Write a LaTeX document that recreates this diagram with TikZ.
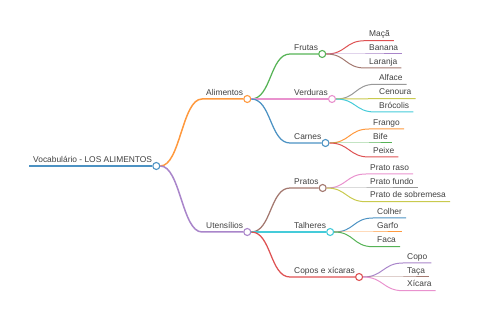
\documentclass[tikz,border=0pt]{standalone}
\usepackage{fontspec}
\setmainfont{Liberation Sans}
\definecolor{txt}{HTML}{404040}
\definecolor{cA}{HTML}{4C92C3}
\definecolor{cB}{HTML}{FF993E}
\definecolor{cC}{HTML}{56B356}
\definecolor{cD}{HTML}{DE5253}
\definecolor{cE}{HTML}{A985CA}
\definecolor{cF}{HTML}{A3786F}
\definecolor{cG}{HTML}{E992CE}
\definecolor{cH}{HTML}{999999}
\definecolor{cI}{HTML}{C9CA4E}
\definecolor{cJ}{HTML}{45CBD9}

\begin{document}
\begin{tikzpicture}[x=1pt,y=-1pt,
    lbl/.style={anchor=south west,inner xsep=4pt,inner ysep=3.5pt,text depth=0pt,
        font=\fontsize{8.4}{10}\selectfont,text=txt},
    dot/.style={circle,draw,fill=white,minimum size=7pt,inner sep=0pt,line width=1.1pt},
    rootline/.style={line width=2pt},
    midline/.style={line width=1.5pt},
    subline/.style={line width=1.25pt},
    leafline/.style={line width=1pt}]
    \useasboundingbox (0,0) rectangle (480,320);

    \node[lbl] (root) at (29,166) {Vocabulário - LOS ALIMENTOS};
    \node[dot,draw=cA] (rootdot) at (root.south east) {};

    \node[lbl] (alim) at (202,99) {Alimentos};
    \node[dot,draw=cB] (alimdot) at (alim.south east) {};
    \node[lbl] (uten) at (202,232) {Utensílios};
    \node[dot,draw=cE] (utendot) at (uten.south east) {};

    \node[lbl] (frutas) at (290,54) {Frutas};
    \node[dot,draw=cC] (frutasdot) at (frutas.south east) {};
    \node[lbl] (verd) at (290,99) {Verduras};
    \node[dot,draw=cG] (verddot) at (verd.south east) {};
    \node[lbl] (carnes) at (290,143) {Carnes};
    \node[dot,draw=cA] (carnesdot) at (carnes.south east) {};
    \node[lbl] (pratos) at (290,188) {Pratos};
    \node[dot,draw=cF] (pratosdot) at (pratos.south east) {};
    \node[lbl] (talh) at (290,232) {Talheres};
    \node[dot,draw=cJ] (talhdot) at (talh.south east) {};
    \node[lbl] (copos) at (290,277) {Copos e xícaras};
    \node[dot,draw=cD] (coposdot) at (copos.south east) {};

    \node[lbl] (maca) at (365,40.7) {Maçã};
    \node[lbl] (banana) at (365,54) {Banana};
    \node[lbl] (laranja) at (365,68) {Laranja};
    \node[lbl] (alface) at (375,84.3) {Alface};
    \node[lbl] (cenoura) at (375,98.7) {Cenoura};
    \node[lbl] (brocolis) at (375,112) {Brócolis};
    \node[lbl] (frango) at (369,129) {Frango};
    \node[lbl] (bife) at (369,143) {Bife};
    \node[lbl] (peixe) at (369,157) {Peixe};
    \node[lbl] (raso) at (366,174) {Prato raso};
    \node[lbl] (fundo) at (366,188) {Prato fundo};
    \node[lbl] (sobre) at (366,201.7) {Prato de sobremesa};
    \node[lbl] (colher) at (373,218) {Colher};
    \node[lbl] (garfo) at (373,232) {Garfo};
    \node[lbl] (faca) at (373,246.7) {Faca};
    \node[lbl] (copo) at (403,263) {Copo};
    \node[lbl] (taca) at (403,277) {Taça};
    \node[lbl] (xicara) at (403,290.7) {Xícara};

    \draw[cA,rootline] (root.south west) -- (rootdot.west);

    \draw[cB,midline] (rootdot.east) .. controls +(20,0) and +(-20,0) .. (alim.south west) -- (alimdot.west);
    \draw[cE,midline] (rootdot.east) .. controls +(20,0) and +(-20,0) .. (uten.south west) -- (utendot.west);

    \draw[cC,subline] (alimdot.east) .. controls +(20,0) and +(-20,0) .. (frutas.south west) -- (frutasdot.west);
    \draw[cG,subline] (alimdot.east) .. controls +(20,0) and +(-20,0) .. (verd.south west) -- (verddot.west);
    \draw[cA,subline] (alimdot.east) .. controls +(20,0) and +(-20,0) .. (carnes.south west) -- (carnesdot.west);
    \draw[cF,subline] (utendot.east) .. controls +(20,0) and +(-20,0) .. (pratos.south west) -- (pratosdot.west);
    \draw[cJ,subline] (utendot.east) .. controls +(20,0) and +(-20,0) .. (talh.south west) -- (talhdot.west);
    \draw[cD,subline] (utendot.east) .. controls +(20,0) and +(-20,0) .. (copos.south west) -- (coposdot.west);

    \draw[cD,leafline] (frutasdot.east) .. controls +(20,0) and +(-20,0) .. (maca.south west) -- (maca.south east);
    \draw[cE,leafline] (frutasdot.east) .. controls +(20,0) and +(-20,0) .. (banana.south west) -- (banana.south east);
    \draw[cF,leafline] (frutasdot.east) .. controls +(20,0) and +(-20,0) .. (laranja.south west) -- (laranja.south east);
    \draw[cH,leafline] (verddot.east) .. controls +(20,0) and +(-20,0) .. (alface.south west) -- (alface.south east);
    \draw[cI,leafline] (verddot.east) .. controls +(20,0) and +(-20,0) .. (cenoura.south west) -- (cenoura.south east);
    \draw[cJ,leafline] (verddot.east) .. controls +(20,0) and +(-20,0) .. (brocolis.south west) -- (brocolis.south east);
    \draw[cB,leafline] (carnesdot.east) .. controls +(20,0) and +(-20,0) .. (frango.south west) -- (frango.south east);
    \draw[cC,leafline] (carnesdot.east) .. controls +(20,0) and +(-20,0) .. (bife.south west) -- (bife.south east);
    \draw[cD,leafline] (carnesdot.east) .. controls +(20,0) and +(-20,0) .. (peixe.south west) -- (peixe.south east);
    \draw[cG,leafline] (pratosdot.east) .. controls +(20,0) and +(-20,0) .. (raso.south west) -- (raso.south east);
    \draw[cH,leafline] (pratosdot.east) .. controls +(20,0) and +(-20,0) .. (fundo.south west) -- (fundo.south east);
    \draw[cI,leafline] (pratosdot.east) .. controls +(20,0) and +(-20,0) .. (sobre.south west) -- (sobre.south east);
    \draw[cA,leafline] (talhdot.east) .. controls +(20,0) and +(-20,0) .. (colher.south west) -- (colher.south east);
    \draw[cB,leafline] (talhdot.east) .. controls +(20,0) and +(-20,0) .. (garfo.south west) -- (garfo.south east);
    \draw[cC,leafline] (talhdot.east) .. controls +(20,0) and +(-20,0) .. (faca.south west) -- (faca.south east);
    \draw[cE,leafline] (coposdot.east) .. controls +(20,0) and +(-20,0) .. (copo.south west) -- (copo.south east);
    \draw[cF,leafline] (coposdot.east) .. controls +(20,0) and +(-20,0) .. (taca.south west) -- (taca.south east);
    \draw[cG,leafline] (coposdot.east) .. controls +(20,0) and +(-20,0) .. (xicara.south west) -- (xicara.south east);

\end{tikzpicture}
\end{document}
